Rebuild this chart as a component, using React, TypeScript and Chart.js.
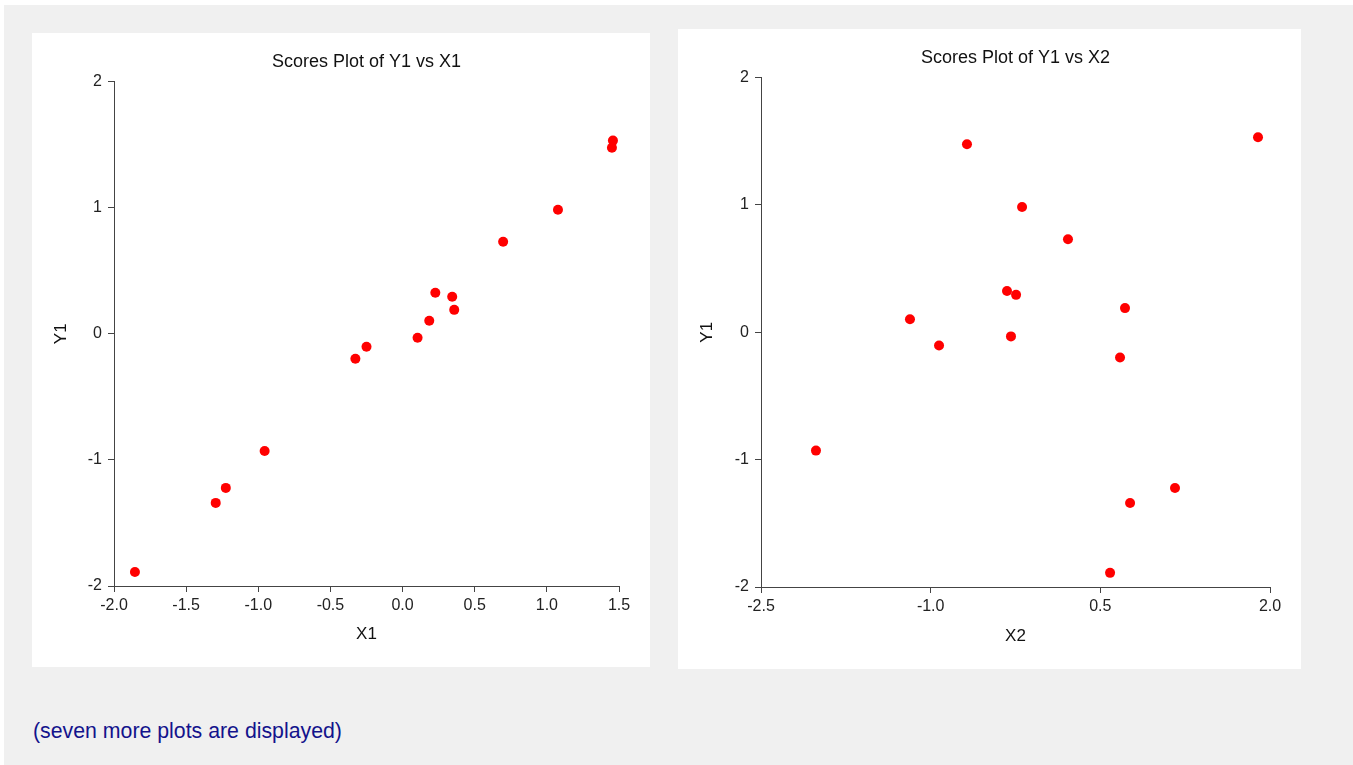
import React, { useEffect, useRef } from "react";
import { Chart, registerables } from "chart.js";

Chart.register(...registerables);

const Y1: number[] = [-1.889, -1.341, -1.222, -0.929, -0.198, -0.103, -0.032, 0.103, 0.325, 0.294, 0.19, 0.73, 0.984, 1.532, 1.476];
const X1: number[] = [-1.855, -1.295, -1.225, -0.956, -0.327, -0.25, 0.104, 0.185, 0.227, 0.344, 0.358, 0.697, 1.077, 1.458, 1.451];
const X2: number[] = [0.586, 0.763, 1.16, -2.014, 0.674, -0.926, -0.29, -1.183, -0.325, -0.245, 0.718, 0.214, -0.192, 1.894, -0.679];

const TITLE1 = "Scores Plot of Y1 vs X1";
const TITLE2 = "Scores Plot of Y1 vs X2";
const FOOTER = "(seven more plots are displayed)";

const FONT = '"Liberation Sans", Arial, Helvetica, sans-serif';

interface PanelSpec {
  left: number;
  top: number;
  width: number;
  height: number;
  title: string;
  xLabel: string;
  xs: number[];
  ys: number[];
  xMin: number;
  xMax: number;
  xStep: number;
  yAxisWidth: number;
  xAxisHeight: number;
  rightPad: number;
  titlePadTop: number;
  titlePadBottom: number;
  xTitlePadBottom: number;
  yTitlePadTop: number;
}

function ScatterPanel({ spec }: { spec: PanelSpec }) {
  const ref = useRef<HTMLCanvasElement | null>(null);
  useEffect(() => {
    if (!ref.current) return;
    const axisColor = "#444";
    const chart = new Chart(ref.current, {
      type: "scatter",
      data: {
        datasets: [
          {
            data: spec.xs.map((x, i) => ({ x, y: spec.ys[i] })),
            backgroundColor: "#ff0000",
            borderColor: "#ff0000",
            borderWidth: 0,
            pointRadius: 5,
            pointHoverRadius: 5,
          },
        ],
      },
      options: {
        animation: false,
        responsive: false,
        devicePixelRatio: 1,
        layout: { padding: { left: 0, top: 0, bottom: 0, right: spec.rightPad } },
        plugins: {
          legend: { display: false },
          tooltip: { enabled: false },
          title: {
            display: true,
            fullSize: false,
            text: spec.title,
            color: "#111",
            font: { family: FONT, size: 18, weight: "normal", lineHeight: 1.2 },
            padding: { top: spec.titlePadTop, bottom: spec.titlePadBottom },
          },
        },
        scales: {
          x: {
            type: "linear",
            position: "bottom",
            min: spec.xMin,
            max: spec.xMax,
            afterFit: (s: any) => {
              s.height = spec.xAxisHeight;
            },
            ticks: {
              stepSize: spec.xStep,
              color: "#222",
              padding: 4,
              font: { family: FONT, size: 16, lineHeight: 1.2 },
              callback: (v: any) => Number(v).toFixed(1),
              maxRotation: 0,
              autoSkip: false,
            },
            grid: { drawOnChartArea: false, drawTicks: true, tickLength: 6, color: axisColor },
            border: { display: true, color: axisColor, width: 1 },
            title: {
              display: true,
              text: spec.xLabel,
              color: "#111",
              font: { family: FONT, size: 17, lineHeight: 1.2 },
              padding: { top: 4, bottom: spec.xTitlePadBottom },
            },
          },
          y: {
            type: "linear",
            position: "left",
            min: -2,
            max: 2,
            afterFit: (s: any) => {
              s.width = spec.yAxisWidth;
            },
            ticks: {
              stepSize: 1,
              color: "#222",
              padding: 6,
              font: { family: FONT, size: 16, lineHeight: 1.2 },
              callback: (v: any) => String(Math.round(Number(v))),
            },
            grid: { drawOnChartArea: false, drawTicks: true, tickLength: 6, color: axisColor },
            border: { display: true, color: axisColor, width: 1 },
            title: {
              display: true,
              text: "Y1",
              color: "#111",
              font: { family: FONT, size: 17, lineHeight: 1.2 },
              padding: { top: spec.yTitlePadTop, bottom: 4 },
            },
          },
        },
      },
    } as any);
    return () => chart.destroy();
  }, [spec]);

  return (
    <div
      style={{
        position: "absolute",
        left: spec.left,
        top: spec.top,
        width: spec.width,
        height: spec.height,
        background: "#ffffff",
      }}
    >
      <canvas
        ref={ref}
        width={spec.width}
        height={spec.height}
        style={{ display: "block", width: spec.width, height: spec.height }}
      />
    </div>
  );
}

const LEFT_SPEC: PanelSpec = {
  left: 32,
  top: 33,
  width: 618,
  height: 634,
  title: TITLE1,
  xLabel: "X1",
  xs: X1,
  ys: Y1,
  xMin: -2,
  xMax: 1.5,
  xStep: 0.5,
  yAxisWidth: 82,
  xAxisHeight: 81,
  rightPad: 31,
  titlePadTop: 18,
  titlePadBottom: 9,
  xTitlePadBottom: 22,
  yTitlePadTop: 19,
};

const RIGHT_SPEC: PanelSpec = {
  left: 678,
  top: 29,
  width: 623,
  height: 640,
  title: TITLE2,
  xLabel: "X2",
  xs: X2,
  ys: Y1,
  xMin: -2.5,
  xMax: 2,
  xStep: 1.5,
  yAxisWidth: 83,
  xAxisHeight: 82,
  rightPad: 31,
  titlePadTop: 18,
  titlePadBottom: 9,
  xTitlePadBottom: 22,
  yTitlePadTop: 19,
};

export default function App() {
  return (
    <div
      style={{
        position: "fixed",
        left: 0,
        top: 0,
        width: 1353,
        height: 765,
        background: "#ffffff",
        overflow: "hidden",
      }}
    >
      <div
        style={{
          position: "absolute",
          left: 4,
          top: 5,
          width: 1349,
          height: 760,
          background: "#f0f0f0",
        }}
      />
      <ScatterPanel spec={LEFT_SPEC} />
      <ScatterPanel spec={RIGHT_SPEC} />
      <div
        style={{
          position: "absolute",
          left: 33,
          top: 719,
          fontFamily: FONT,
          fontSize: 21.3,
          lineHeight: "24px",
          color: "#13138c",
          whiteSpace: "nowrap",
        }}
      >
        {FOOTER}
      </div>
    </div>
  );
}
